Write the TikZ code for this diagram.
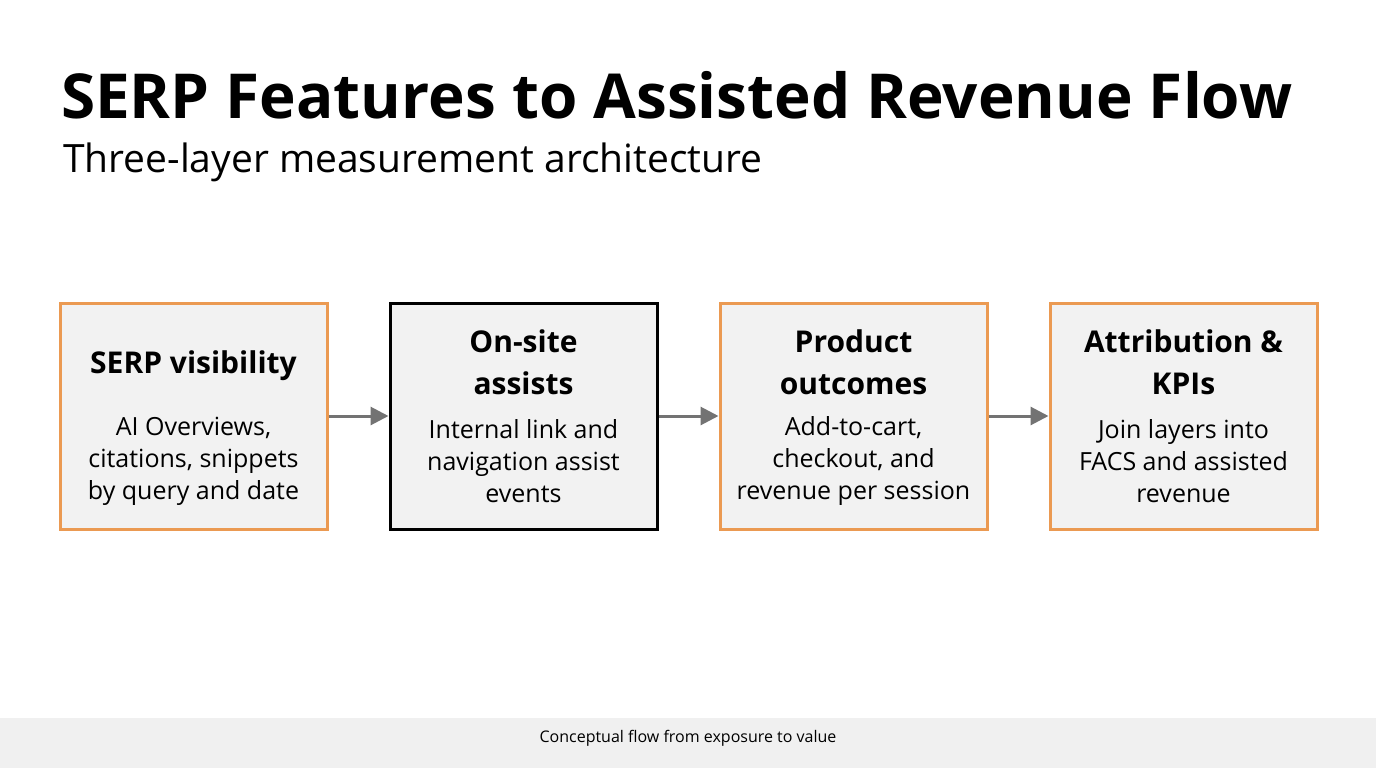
\documentclass[tikz,border=0pt]{standalone}
\usepackage{fontspec}
\setmainfont{Open Sans}
\usetikzlibrary{positioning,arrows.meta}
\definecolor{boxfill}{HTML}{F2F2F2}
\definecolor{orangeline}{HTML}{EB9A52}
\definecolor{arrowgray}{HTML}{737373}
\definecolor{footgray}{HTML}{F0F0F0}
\tikzset{
    stage/.style={draw=orangeline, line width=1.5pt, fill=boxfill, minimum width=133.5pt, minimum height=113pt},
    keystage/.style={stage, draw=black},
    head/.style={font=\fontsize{15}{21}\selectfont\bfseries, align=center},
    body/.style={font=\fontsize{12.5}{16}\selectfont, align=center},
    flow/.style={-{Triangle[length=9pt,width=9pt]}, arrowgray, line width=1.5pt},
}
\begin{document}
\begin{tikzpicture}[x=0.5pt,y=0.5pt]
    \useasboundingbox (0,0) rectangle (1376,768);
    \fill[footgray] (0,0) rectangle (1376,50);
    \node[anchor=west, font=\fontsize{31}{35}\selectfont\bfseries] (title) at (54,673) {SERP Features to Assisted Revenue Flow};
    \node[anchor=west, font=\fontsize{19.5}{23}\selectfont] (subtitle) at (56,606) {Three-layer measurement architecture};
    \node[font=\fontsize{8}{10}\selectfont] (foot) at (688,30) {Conceptual flow from exposure to value};

    \node[stage] (serp) at (193.5,352) {};
    \node[keystage] (onsite) at (523.5,352) {};
    \node[stage] (product) at (853.5,352) {};
    \node[stage] (kpi) at (1183.5,352) {};

    \node[head] at (193.5,402) {SERP visibility};
    \node[head] at (523.5,406) {On-site\\assists};
    \node[head] at (853.5,406) {Product\\outcomes};
    \node[head] at (1183.5,406) {Attribution \&\\KPIs};

    \node[body] at (193.5,307) {AI Overviews,\\citations, snippets\\by query and date};
    \node[body] at (523.5,307) {Internal link and\\navigation assist\\events};
    \node[body] at (853.5,307) {Add-to-cart,\\checkout, and\\revenue per session};
    \node[body] at (1183.5,307) {Join layers into\\FACS and assisted\\revenue};

    \draw[flow] (serp) -- (onsite);
    \draw[flow] (onsite) -- (product);
    \draw[flow] (product) -- (kpi);
\end{tikzpicture}
\end{document}
